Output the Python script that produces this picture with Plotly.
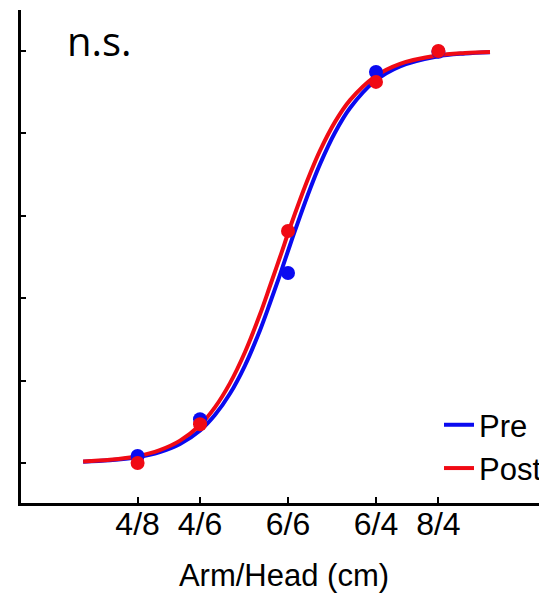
import plotly.graph_objects as go

# Stimulus categories (arm/head length ratio) and tick labels
categories = ["4/8", "4/6", "6/6", "6/4", "8/4"]
ratios = [4/8, 4/6, 6/6, 6/4, 8/4]

pre_points = [0.017, 0.106, 0.461, 0.949, 0.998]
post_points = [0.0, 0.094, 0.563, 0.925, 1.0]

curve_ratio = [0.389, 0.440, 0.499, 0.554, 0.608, 0.667, 0.714, 0.765, 0.820,
               0.879, 0.920, 0.964, 1.009, 1.057, 1.107, 1.159, 1.242, 1.331,
               1.493, 1.676, 1.987, 2.261, 2.537]
pre_curve = [0.0030, 0.0065, 0.0140, 0.0266, 0.0462, 0.0789, 0.1163, 0.1680,
             0.2366, 0.3224, 0.3877, 0.4573, 0.5285, 0.5987, 0.6650, 0.7254,
             0.8022, 0.8616, 0.9271, 0.9629, 0.9868, 0.9940, 0.9971]
post_curve = [0.0036, 0.0077, 0.0165, 0.0314, 0.0543, 0.0923, 0.1350, 0.1933,
              0.2689, 0.3609, 0.4290, 0.5000, 0.5710, 0.6391, 0.7020, 0.7582,
              0.8280, 0.8808, 0.9378, 0.9686, 0.9889, 0.9950, 0.9975]

y_ticks = [0, 0.2, 0.4, 0.6, 0.8, 1.0]

BLUE = "rgb(10,10,240)"
RED = "rgb(240,10,20)"

fig = go.Figure()
fig.add_trace(go.Scatter(x=curve_ratio, y=pre_curve, mode="lines", name="Pre",
                         line=dict(color=BLUE, width=4, shape="spline")))
fig.add_trace(go.Scatter(x=curve_ratio, y=post_curve, mode="lines", name="Post",
                         line=dict(color=RED, width=4, shape="spline")))
fig.add_trace(go.Scatter(x=ratios, y=pre_points, mode="markers", showlegend=False,
                         marker=dict(color=BLUE, size=14)))
fig.add_trace(go.Scatter(x=ratios, y=post_points, mode="markers", showlegend=False,
                         marker=dict(color=RED, size=14)))

fig.update_layout(
    width=539, height=589,
    margin=dict(l=13, r=0, t=2, b=94),
    plot_bgcolor="white", paper_bgcolor="white",
    font=dict(family="Arial", color="black", size=31),
    showlegend=True,
    legend=dict(x=1.0, xanchor="right", y=0.016, yanchor="bottom",
                bgcolor="rgba(0,0,0,0)", font=dict(family="Arial", size=31),
                tracegroupgap=0, itemwidth=30),
    annotations=[dict(text="n.s.", xref="paper", yref="paper", x=0.083, y=0.938,
                      xanchor="left", yanchor="middle", showarrow=False,
                      font=dict(family="Open Sans, sans-serif", size=40, color="black"))],
)
fig.update_xaxes(type="log", range=[-0.5344, 0.5184],
                 tickvals=ratios, ticktext=categories,
                 tickfont=dict(family="Arial", size=32),
                 ticks="inside", ticklen=6, tickwidth=2, tickcolor="black",
                 showline=True, linecolor="black", linewidth=3,
                 showgrid=False, zeroline=False, ticklabelstandoff=-9,
                 title=dict(text="Arm/Head (cm)", standoff=23,
                            font=dict(family="Arial", size=31)))
fig.update_yaxes(range=[-0.0971, 1.0995], tickvals=y_ticks, showticklabels=False,
                 ticks="inside", ticklen=5, tickwidth=2, tickcolor="black",
                 showline=True, linecolor="black", linewidth=3,
                 showgrid=False, zeroline=False)

fig.write_html("out.html")
